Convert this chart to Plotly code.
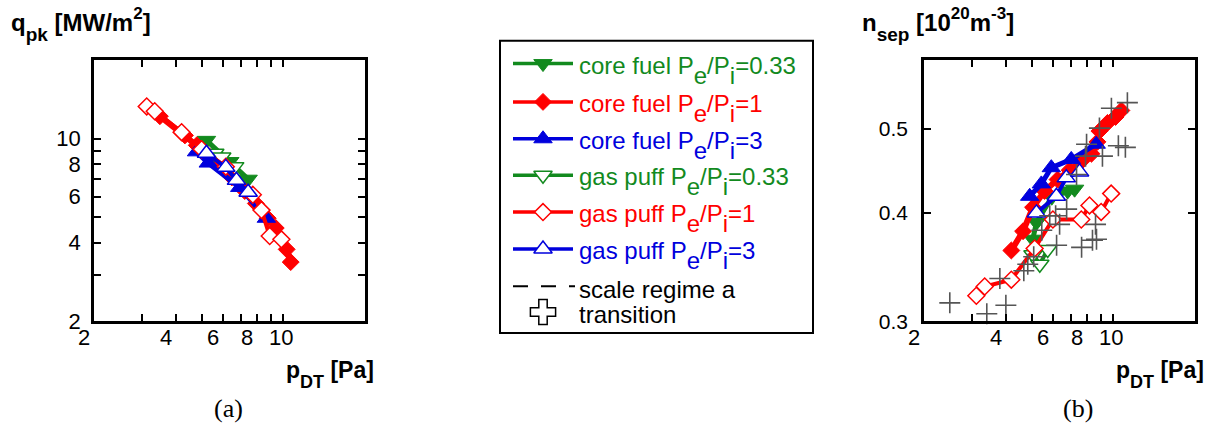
import math
import plotly.graph_objects as go

W, H = 1223, 441

GREEN = "#128a1e"
RED = "#ff0000"
BLUE = "#0000dd"
CROSS = "#555555"
SANS = "Liberation Sans, Arial, sans-serif"
SERIF = "Liberation Serif, Times New Roman, serif"

# ---- panel (a): peak heat flux q_pk [MW/m2] vs divertor pressure p_DT [Pa]
a_core033_p = [5.20, 6.34, 7.41]
a_core033_q = [9.86, 8.18, 7.00]
a_core1_p = [3.50, 4.33, 4.79, 5.58, 6.45, 7.20, 7.91, 8.75, 9.37, 10.28, 10.64]
a_core1_q = [12.2, 10.3, 9.44, 8.30, 7.11, 6.31, 5.65, 4.96, 4.55, 3.77, 3.37]
a_core3_p = [4.78, 5.28, 6.90, 8.65]
a_core3_q = [8.91, 8.07, 6.51, 4.96]
a_gas033_p = [5.58, 5.92, 6.61]
a_gas033_q = [8.80, 8.52, 7.82]
a_gas1_p = [3.13, 3.35, 4.21, 4.99, 6.13, 7.71, 8.30, 8.90, 9.83]
a_gas1_q = [13.3, 12.75, 10.6, 9.12, 7.82, 6.10, 5.33, 4.24, 4.12]
a_gas3_p = [5.20, 6.13, 6.71, 7.41]
a_gas3_q = [8.80, 7.77, 6.93, 6.24]

# ---- panel (b): separatrix density n_sep [1e20 m^-3] vs p_DT [Pa]
b_core033_p = [5.04, 5.20, 5.92, 6.78, 7.19]
b_core033_n = [0.373, 0.390, 0.417, 0.424, 0.426]
b_core1_p = [4.20, 4.64, 5.05, 5.57, 6.22, 6.89, 7.63, 8.30, 8.73, 8.88, 9.51, 10.18, 10.70]
b_core1_n = [0.362, 0.381, 0.406, 0.424, 0.437, 0.448, 0.459, 0.468, 0.483, 0.497, 0.508, 0.516, 0.525]
b_core3_p = [4.91, 5.42, 5.90, 6.99, 8.64]
b_core3_n = [0.418, 0.432, 0.451, 0.461, 0.480]
b_gas033_p = [5.05, 5.35, 5.72]
b_gas033_n = [0.358, 0.349, 0.363]
b_gas1_p = [3.12, 3.35, 4.20, 5.12, 5.98, 7.61, 8.16, 9.01, 9.81]
b_gas1_n = [0.321, 0.329, 0.335, 0.364, 0.393, 0.393, 0.408, 0.401, 0.421]
b_gas3_p = [5.20, 6.16, 6.70, 7.50]
b_gas3_n = [0.400, 0.418, 0.439, 0.446]

# regime-a transition points
tr_p = [2.49, 3.41, 4.01, 3.81, 4.67, 4.83, 5.08, 5.44, 5.82, 6.12, 6.33, 6.17, 6.72,
        7.63, 8.37, 8.66, 8.59, 7.31, 7.96, 7.89, 9.11, 8.88, 9.83, 11.26, 10.43, 11.07]
tr_n = [0.315, 0.306, 0.313, 0.336, 0.343, 0.349, 0.356, 0.382, 0.397, 0.397, 0.388, 0.367, 0.404,
        0.365, 0.372, 0.373, 0.388, 0.443, 0.480, 0.465, 0.465, 0.501, 0.528, 0.536, 0.478, 0.476]

# axis ticks
p_major = [2, 4, 6, 8, 10]
p_labels = ["2", "4", "6", "8", "10"]
p_minor = [3, 5, 7, 9]
qa_major = [2, 4, 6, 8, 10]
qa_labels = ["2", "4", "6", "8", "10"]
qa_minor = [3, 5, 7, 9]
nb_major = [0.3, 0.4, 0.5]
nb_labels = ["0.3", "0.4", "0.5"]

legend_labels = [
    "core fuel P_e/P_i=0.33",
    "core fuel P_e/P_i=1",
    "core fuel P_e/P_i=3",
    "gas puff P_e/P_i=0.33",
    "gas puff P_e/P_i=1",
    "gas puff P_e/P_i=3",
]

# series styles: (colour, symbol, filled, line width)
styles = [
    (GREEN, "triangle-down", True, 5),
    (RED, "diamond", True, 6),
    (BLUE, "triangle-up", True, 5),
    (GREEN, "triangle-down", False, 4),
    (RED, "diamond", False, 4),
    (BLUE, "triangle-up", False, 4),
]

panel_a = [(a_core033_p, a_core033_q), (a_core1_p, a_core1_q), (a_core3_p, a_core3_q),
           (a_gas033_p, a_gas033_q), (a_gas1_p, a_gas1_q), (a_gas3_p, a_gas3_q)]
panel_b = [(b_core033_p, b_core033_n), (b_core1_p, b_core1_n), (b_core3_p, b_core3_n),
           (b_gas033_p, b_gas033_n), (b_gas1_p, b_gas1_n), (b_gas3_p, b_gas3_n)]


def marker_for(color, symbol, filled):
    size = 13 if symbol == "diamond" else 16
    if filled:
        return dict(symbol=symbol, size=size, color=color, line=dict(color=color, width=1))
    return dict(symbol=symbol, size=size, color="white", line=dict(color=color, width=1.5))


def add_series(p, v, xa, ya, style):
    color, symbol, filled, lw = style
    fig.add_trace(go.Scatter(
        x=p, y=v, xaxis=xa, yaxis=ya, mode="lines+markers",
        line=dict(color=color, width=lw), marker=marker_for(color, symbol, filled),
        showlegend=False, hoverinfo="skip", cliponaxis=False))


fig = go.Figure()

# draw order: filled core-fuel series under the open gas-puff series
for (p, v), st in zip(panel_a, styles):
    add_series(p, v, "x", "y", st)
for (p, v), st in zip(panel_b, styles):
    add_series(p, v, "x2", "y2", st)

fig.add_trace(go.Scatter(
    x=tr_p, y=tr_n, xaxis="x2", yaxis="y2", mode="markers",
    marker=dict(symbol="cross-thin", size=15, line=dict(color=CROSS, width=1.6)),
    showlegend=False, hoverinfo="skip", cliponaxis=False))

# ---- legend drawn in a pixel-coordinate overlay
LX0, LX1, LXM, LTX = 513, 573, 543, 577
row_y = [65.5, 105, 143, 180.5, 218.5, 256.5]
dash_y, cross_y = 295, 321.5
LEG_FS = 24


def sub_html(label):
    head, rest = label.split("P_e/P_i")
    sub = '<span style="font-size:%dpx;baseline-shift:-0.42em">%%s</span>' % LEG_FS
    return head + "P" + sub % "e" + "/P" + sub % "i" + rest


annotations = []
for lab, st, ry in zip(legend_labels, styles, row_y):
    color, symbol, filled, lw = st
    fig.add_trace(go.Scatter(
        x=[LX0, LX1], y=[ry, ry], xaxis="x3", yaxis="y3", mode="lines",
        line=dict(color=color, width=3.5), showlegend=False, hoverinfo="skip"))
    mk = marker_for(color, symbol, filled)
    fig.add_trace(go.Scatter(
        x=[LXM], y=[ry], xaxis="x3", yaxis="y3", mode="markers", marker=mk,
        showlegend=False, hoverinfo="skip"))
    annotations.append(dict(
        x=LTX, y=ry + 7, xref="x3", yref="y3", xanchor="left", yanchor="middle", align="left",
        text=sub_html(lab), showarrow=False,
        font=dict(family=SANS, size=LEG_FS, color=color)))

fig.add_trace(go.Scatter(
    x=[LX0, LX1 + 2], y=[dash_y, dash_y], xaxis="x3", yaxis="y3", mode="lines",
    line=dict(color="black", width=2, dash="15px,13px"), showlegend=False, hoverinfo="skip"))
fig.add_trace(go.Scatter(
    x=[LXM], y=[cross_y], xaxis="x3", yaxis="y3", mode="markers",
    marker=dict(symbol="cross", size=21, color="white", line=dict(color="black", width=1.5)),
    showlegend=False, hoverinfo="skip"))
annotations.append(dict(x=LTX, y=dash_y + 3, xref="x3", yref="y3", xanchor="left", yanchor="middle",
                        align="left", text="scale regime a", showarrow=False,
                        font=dict(family=SANS, size=LEG_FS, color="black")))
annotations.append(dict(x=LTX, y=cross_y + 3, xref="x3", yref="y3", xanchor="left", yanchor="middle",
                        align="left", text="transition", showarrow=False,
                        font=dict(family=SANS, size=LEG_FS, color="black")))


def px_x(v):
    return v / W


def px_y(v):
    return 1 - v / H


# ---- x tick labels, placed on each panel's log axis
TICK_FS = 22
for xref in ("x", "x2"):
    for v, lab in zip(p_major, p_labels):
        wide = len(lab) > 1
        annotations.append(dict(
            x=math.log10(v), y=px_y(348), xref=xref, yref="paper",
            xanchor="center" if wide else "right", yanchor="middle",
            xshift=-2, text=lab, showarrow=False,
            font=dict(family=SANS, size=TICK_FS, color="black")))

# ---- axis titles and panel tags
def sub_span(txt, size, shift):
    return '<span style="font-size:%dpx;baseline-shift:-%.2fem">%s</span>' % (size, shift, txt)


def sup_span(txt, size, shift):
    return '<span style="font-size:%dpx;baseline-shift:%.2fem">%s</span>' % (size, shift, txt)


title_font = dict(family=SANS, size=24, color="black")
axis_font = dict(family=SANS, size=23, color="black")
annotations += [
    dict(x=px_x(9), y=px_y(2), xref="paper", yref="paper", xanchor="left", yanchor="top", align="left",
         text="<b>q" + sub_span("pk", 19, 0.5) + " [MW/m" + sup_span("2", 17, 0.7) + "]</b>",
         showarrow=False, font=title_font),
    dict(x=px_x(860), y=px_y(2), xref="paper", yref="paper", xanchor="left", yanchor="top", align="left",
         text="<b>n" + sub_span("sep", 19, 0.5) + " [10" + sup_span("20", 17, 0.7) + "m"
              + sup_span("-3", 17, 0.7) + "]</b>",
         showarrow=False, font=title_font),
    dict(x=px_x(284), y=px_y(366), xref="paper", yref="paper", xanchor="left", yanchor="top", align="left",
         text="<b>p" + sub_span("DT", 18, 0.55) + " [Pa]</b>", showarrow=False, font=axis_font),
    dict(x=px_x(1114), y=px_y(366), xref="paper", yref="paper", xanchor="left", yanchor="top", align="left",
         text="<b>p" + sub_span("DT", 18, 0.55) + " [Pa]</b>", showarrow=False, font=axis_font),
    dict(x=px_x(228), y=px_y(421), xref="paper", yref="paper", xanchor="center", yanchor="middle",
         text="(a)", showarrow=False, font=dict(family=SERIF, size=26, color="black")),
    dict(x=px_x(1078), y=px_y(421), xref="paper", yref="paper", xanchor="center", yanchor="middle",
         text="(b)", showarrow=False, font=dict(family=SERIF, size=26, color="black")),
]

# ---- reference lines at p_DT = 10 Pa and q_pk = 10 MW/m2, legend frame
grid = dict(color="#5a5a5a", width=2.5, dash="dot")
shapes = [
    dict(type="line", xref="x", yref="y domain", x0=1, x1=1, y0=0, y1=1, line=grid, layer="below"),
    dict(type="line", xref="x domain", yref="y", x0=0, x1=1, y0=1, y1=1, line=grid, layer="below"),
    dict(type="line", xref="x2", yref="y2 domain", x0=1, x1=1, y0=0, y1=1, line=grid, layer="below"),
    dict(type="rect", xref="paper", yref="paper", x0=px_x(500), x1=px_x(813), y0=px_y(343), y1=px_y(42),
         line=dict(color="black", width=2), fillcolor="rgba(0,0,0,0)"),
]

frame = dict(ticks="inside", ticklen=7, tickwidth=2, tickcolor="black", showline=True,
             linewidth=2.5, linecolor="black", mirror="ticks", showgrid=False, zeroline=False,
             tickfont=dict(family=SANS, size=TICK_FS, color="black"), type="log")
minor_of = lambda vals: dict(tickmode="array", tickvals=vals, ticks="inside", ticklen=7,
                             tickwidth=2, tickcolor="black", showgrid=False)

x_common = dict(frame, range=[math.log10(2), math.log10(20)], tickmode="array",
                tickvals=p_major, showticklabels=False, minor=minor_of(p_minor))

fig.update_layout(
    width=W, height=H, margin=dict(l=0, r=0, t=0, b=0),
    paper_bgcolor="white", plot_bgcolor="rgba(0,0,0,0)",
    showlegend=False,
    xaxis=dict(x_common, domain=[px_x(94), px_x(365)], anchor="y"),
    yaxis=dict(frame, domain=[px_y(331), px_y(62)], anchor="x",
               range=[math.log10(2), math.log10(20)], tickmode="array",
               tickvals=qa_major, ticktext=qa_labels, ticklabelstandoff=6,
               minor=minor_of(qa_minor)),
    xaxis2=dict(x_common, domain=[px_x(924), px_x(1195)], anchor="y2"),
    yaxis2=dict(frame, domain=[px_y(331), px_y(62)], anchor="x2",
                range=[math.log10(0.3), math.log10(0.6)], tickmode="array",
                tickvals=nb_major, ticktext=nb_labels, ticklabelstandoff=9,
                tickfont=dict(family=SANS, size=21, color="black")),
    xaxis3=dict(domain=[0, 1], range=[0, W], visible=False, anchor="y3", fixedrange=True),
    yaxis3=dict(domain=[0, 1], range=[H, 0], visible=False, anchor="x3", fixedrange=True),
    annotations=annotations,
    shapes=shapes,
)

fig.write_html("out.html")
